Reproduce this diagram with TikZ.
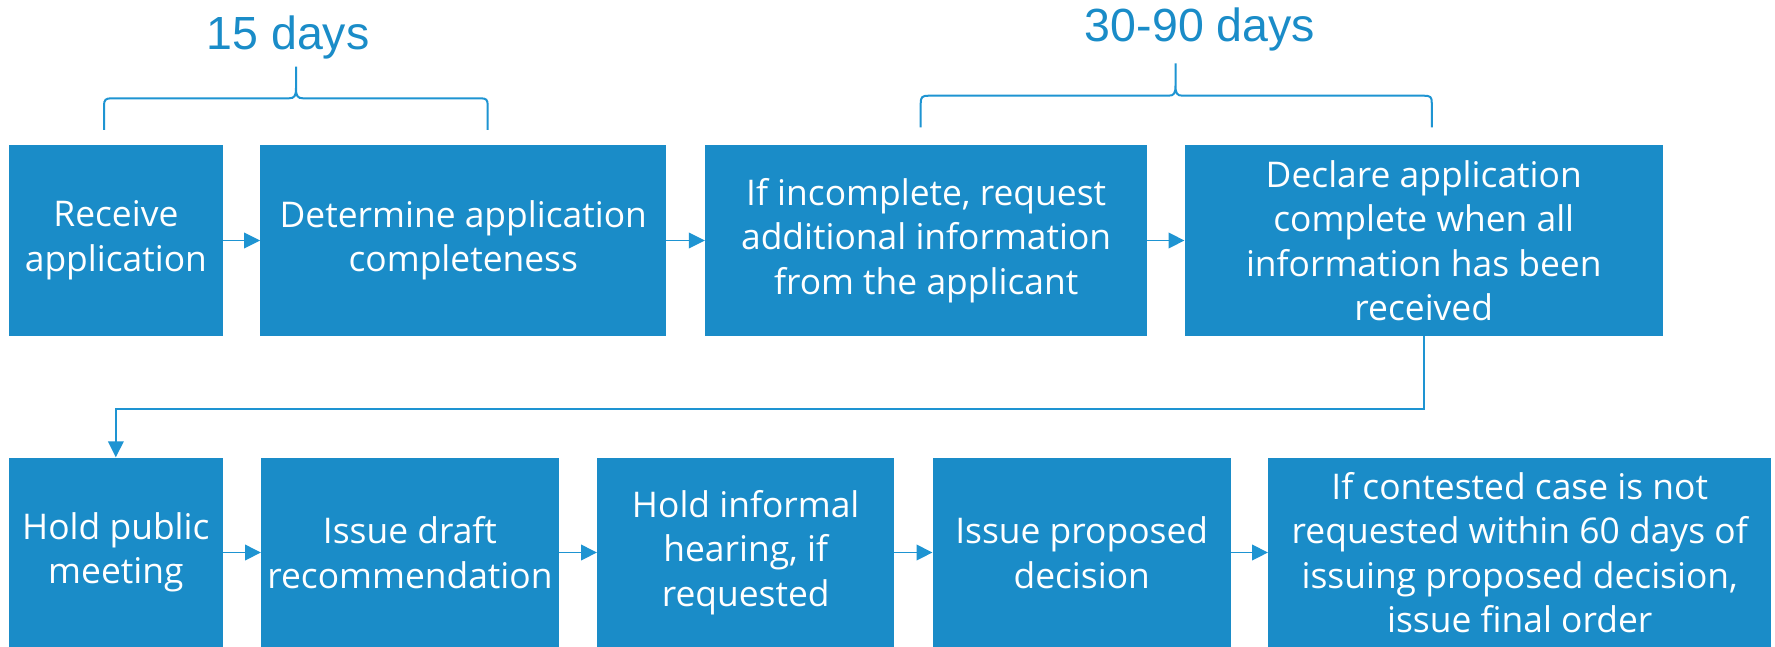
\documentclass[tikz,border=0pt]{standalone}
\usepackage{fontspec}
\setmainfont{Liberation Sans}
\newfontfamily\boxfont{Open Sans}
\usetikzlibrary{arrows.meta}
\definecolor{boxblue}{RGB}{26,140,200}
\definecolor{lineblue}{RGB}{30,148,210}
\tikzset{
  stepbox/.style={fill=boxblue, draw=none, text=white, align=center, inner sep=0pt,
    minimum height=190pt, anchor=north west,
    font=\boxfont\fontsize{35.4}{44.5}\selectfont},
  conn/.style={draw=lineblue, line width=1.6pt, -{Triangle[length=16pt,width=15.6pt]}},
  bracel/.style={draw=lineblue, line width=2pt},
  daylabel/.style={text=boxblue, anchor=base, inner sep=0pt, font=\fontsize{46.5}{50}\selectfont}
}
\begin{document}
\begin{tikzpicture}[x=1pt,y=-1pt]
\useasboundingbox (0,0) rectangle (1775,647);
\fill[white] (0,0) rectangle (1775,647);
% row 1
\node[stepbox, minimum width=214.6pt] (b1) at (8.4,145.3) {Receive\\application};
\node[stepbox, minimum width=405.8pt] (b2) at (260.2,145.3) {Determine application\\completeness};
\node[stepbox, minimum width=442.1pt] (b3) at (704.9,145.3) {If incomplete, request\\additional information\\from the applicant};
\node[stepbox, minimum width=478.1pt] (b4) at (1184.5,145.3) {Declare application\\complete when all\\information has been\\received};
% row 2
\node[stepbox, minimum width=214.1pt] (b5) at (8.6,457.3) {Hold public\\meeting};
\node[stepbox, minimum width=297.5pt] (b6) at (261,457.3) {Issue draft\\recommendation};
\node[stepbox, minimum width=297pt] (b7) at (597,457.3) {Hold informal\\hearing, if\\requested};
\node[stepbox, minimum width=298pt] (b8) at (932.5,457.3) {Issue proposed\\decision};
\node[stepbox, minimum width=503pt] (b9) at (1268,457.3) {If contested case is not\\requested within 60 days of\\issuing proposed decision,\\issue final order};
% connectors
\draw[conn] (b1.east) -- (b2.west);
\draw[conn] (b2.east) -- (b3.west);
\draw[conn] (b3.east) -- (b4.west);
\draw[conn] (b5.east) -- (b6.west);
\draw[conn] (b6.east) -- (b7.west);
\draw[conn] (b7.east) -- (b8.west);
\draw[conn] (b8.east) -- (b9.west);
\draw[conn] (b4.south) -- ++(0,73.4) -| (b5.north);
% braces
\draw[bracel] (104,130) -- (104,106) .. controls (104,99.5) and (105.5,98.3) .. (112,98.3)
  -- (289,98.3) .. controls (294.5,98.3) and (296,96) .. (296,88) -- (296,66.7)
  (296,88) .. controls (296,96) and (297.5,98.3) .. (303,98.3)
  -- (480,98.3) .. controls (486.5,98.3) and (487.7,99.5) .. (487.7,106) -- (487.7,130);
\draw[bracel] (920.7,127.3) -- (920.7,103.4) .. controls (920.7,97) and (922.2,95.7) .. (928.7,95.7)
  -- (1168.5,95.7) .. controls (1174,95.7) and (1175.5,93.4) .. (1175.5,85.4) -- (1175.5,63.3)
  (1175.5,85.4) .. controls (1175.5,93.4) and (1177,95.7) .. (1182.5,95.7)
  -- (1424,95.7) .. controls (1430.5,95.7) and (1431.8,97) .. (1431.8,103.4) -- (1431.8,127.3);
% labels
\node[daylabel] (l1) at (288,49.3) {15 days};
\node[daylabel] (l2) at (1200,41.7) {30-90 days};
\end{tikzpicture}
\end{document}
